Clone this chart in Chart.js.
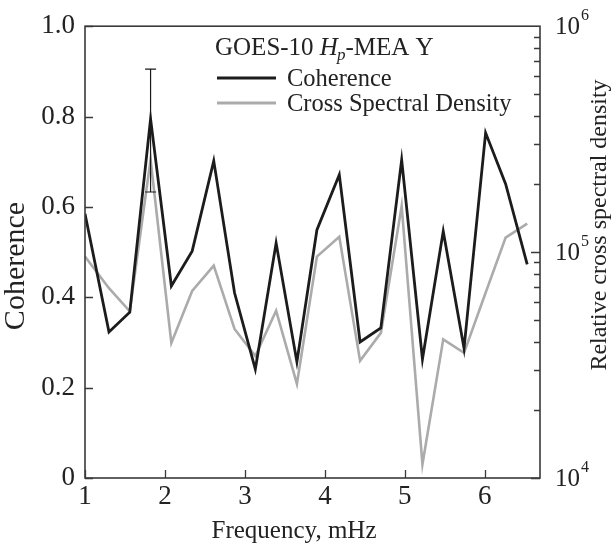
<!DOCTYPE html>
<html>
<head>
<meta charset="utf-8">
<script src="https://cdn.jsdelivr.net/npm/chart.js@4.4.1/dist/chart.umd.min.js"></script>
<style>
  html, body { margin: 0; padding: 0; background: #fff; }
  #wrap { width: 616px; height: 546px; position: relative; }
</style>
</head>
<body>
<div id="wrap"><canvas id="c" width="616" height="546"></canvas></div>
<script>
// ---- data ----
const frequency = [1.00, 1.30, 1.56, 1.82, 2.08, 2.34, 2.61, 2.87, 3.13, 3.39, 3.65, 3.90, 4.18, 4.44, 4.70, 4.96, 5.22, 5.48, 5.74, 6.01, 6.26, 6.53];
const coherence = [0.585, 0.323, 0.367, 0.795, 0.425, 0.502, 0.702, 0.410, 0.241, 0.520, 0.257, 0.549, 0.671, 0.301, 0.332, 0.704, 0.263, 0.546, 0.287, 0.764, 0.651, 0.473];
const crossSpectralDensity = [95500, 69200, 54700, 257000, 39600, 67300, 87100, 45700, 34700, 55000, 26100, 95500, 117000, 33000, 43900, 160000, 11500, 41100, 35800, 66100, 115900, 133700];
const errorBar = { frequency: 1.82, low: 0.633, high: 0.905 };
const xTickValues = [1, 2, 3, 4, 5, 6];
const yTickValues = [0, 0.2, 0.4, 0.6, 0.8, 1.0];
const y2MajorTicks = [1e4, 1e5, 1e6];
const y2Exponents = { 10000: '4', 100000: '5', 1000000: '6' };
const seriesNames = ['Coherence', 'Cross Spectral Density'];
const axisTitles = { x: 'Frequency, mHz', y: 'Coherence', y2: 'Relative cross spectral density' };

const FONT = '"Liberation Serif", "Times New Roman", serif';
const TXT = '#222';

const overlay = {
  id: 'overlay',
  afterDatasetsDraw(chart) {
    const ctx = chart.ctx;
    const a = chart.chartArea;
    const sx = chart.scales.x, sy = chart.scales.y, sy2 = chart.scales.y2;
    ctx.save();
    // frame
    ctx.strokeStyle = '#3a3a3a';
    ctx.lineWidth = 1.6;
    ctx.strokeRect(a.left, a.top, a.right - a.left, a.bottom - a.top);
    ctx.lineWidth = 1.3;
    ctx.beginPath();
    xTickValues.forEach(v => {
      const px = Math.round(sx.getPixelForValue(v)) + 0.5;
      ctx.moveTo(px, a.bottom); ctx.lineTo(px, a.bottom - 8);
    });
    yTickValues.forEach(v => {
      const py = Math.round(sy.getPixelForValue(v)) + 0.5;
      ctx.moveTo(a.left, py); ctx.lineTo(a.left + 8, py);
    });
    for (let dec = 1e4; dec < 1e6; dec *= 10) {
      for (let m = 1; m <= 9; m++) {
        const py = Math.round(sy2.getPixelForValue(dec * m)) + 0.5;
        const len = m === 1 ? 9 : 6;
        ctx.moveTo(a.right, py); ctx.lineTo(a.right - len, py);
      }
    }
    ctx.stroke();
    // error bar
    const ex = sx.getPixelForValue(errorBar.frequency);
    const eh = sy.getPixelForValue(errorBar.high);
    const el = sy.getPixelForValue(errorBar.low);
    ctx.strokeStyle = '#1a1a1a';
    ctx.lineWidth = 1.2;
    ctx.beginPath();
    ctx.moveTo(ex, eh); ctx.lineTo(ex, el);
    ctx.moveTo(ex - 5.5, eh); ctx.lineTo(ex + 5.5, eh);
    ctx.moveTo(ex - 5.5, el); ctx.lineTo(ex + 5.5, el);
    ctx.stroke();

    // right axis tick labels with superscript exponents
    ctx.fillStyle = TXT;
    ctx.textAlign = 'left';
    ctx.textBaseline = 'middle';
    y2MajorTicks.forEach(v => {
      const py = sy2.getPixelForValue(v);
      ctx.font = '25px ' + FONT;
      ctx.fillText('10', a.right + 15, py + 1);
      const w = ctx.measureText('10').width;
      ctx.font = '16px ' + FONT;
      ctx.fillText(y2Exponents[v], a.right + 15 + w + 1, py - 10);
    });

    // axis titles
    ctx.textAlign = 'center';
    ctx.textBaseline = 'middle';
    ctx.font = '25px ' + FONT;
    ctx.fillText(axisTitles.x, 294, 531);
    ctx.save();
    ctx.translate(16, 266);
    ctx.rotate(-Math.PI / 2);
    ctx.font = '30px ' + FONT;
    ctx.fillText(axisTitles.y, 0, 0);
    ctx.restore();
    ctx.save();
    ctx.translate(600, 225);
    ctx.rotate(-Math.PI / 2);
    ctx.font = '24px ' + FONT;
    ctx.fillText(axisTitles.y2, 0, 0);
    ctx.restore();

    // legend block
    ctx.fillStyle = TXT;
    ctx.textBaseline = 'alphabetic';
    ctx.textAlign = 'left';
    let x = 215, base = 55;
    ctx.font = '25px ' + FONT;
    ctx.fillText('GOES-10 ', x, base); x += ctx.measureText('GOES-10 ').width;
    ctx.font = 'italic 25px ' + FONT;
    ctx.fillText('H', x, base); x += ctx.measureText('H').width;
    ctx.font = 'italic 17px ' + FONT;
    ctx.fillText('p', x - 1, base + 5); x += ctx.measureText('p').width - 1;
    ctx.font = '25px ' + FONT;
    ctx.fillText('-MEA Y', x, base);

    const ds = chart.data.datasets;
    const rows = [{ y: 78, tb: 86 }, { y: 103, tb: 111 }];
    rows.forEach((r, i) => {
      ctx.strokeStyle = ds[i].borderColor;
      ctx.lineWidth = 3;
      ctx.beginPath();
      ctx.moveTo(217, r.y); ctx.lineTo(276, r.y);
      ctx.stroke();
      ctx.fillStyle = TXT;
      ctx.font = '24.5px ' + FONT;
      ctx.fillText(ds[i].label, 287, r.tb);
    });
    ctx.restore();
  }
};

new Chart(document.getElementById('c'), {
  type: 'line',
  data: {
    datasets: [
      {
        label: seriesNames[0],
        data: frequency.map((f, i) => ({ x: f, y: coherence[i] })),
        yAxisID: 'y',
        borderColor: '#1c1c1c',
        borderWidth: 2.8,
        pointRadius: 0,
        tension: 0,
        order: 0
      },
      {
        label: seriesNames[1],
        data: frequency.map((f, i) => ({ x: f, y: crossSpectralDensity[i] })),
        yAxisID: 'y2',
        borderColor: '#ababab',
        borderWidth: 2.6,
        pointRadius: 0,
        tension: 0,
        order: 1
      }
    ]
  },
  options: {
    responsive: false,
    animation: false,
    devicePixelRatio: 1,
    layout: { padding: { top: 23, left: 0, right: 0, bottom: 0 } },
    plugins: { legend: { display: false }, tooltip: { enabled: false } },
    scales: {
      x: {
        type: 'linear', min: 1, max: 6.69,
        afterBuildTicks: s => { s.ticks = xTickValues.map(v => ({ value: v })); },
        afterFit: s => { s.height = 68; },
        grid: { display: false, drawTicks: false },
        border: { display: false },
        ticks: { color: TXT, font: { family: FONT, size: 27 }, padding: 3, maxRotation: 0 },
        title: { display: false, text: axisTitles.x }
      },
      y: {
        type: 'linear', position: 'left', min: 0, max: 1,
        afterBuildTicks: s => { s.ticks = yTickValues.map(v => ({ value: v })); },
        afterFit: s => { s.width = 85; },
        grid: { display: false, drawTicks: false },
        border: { display: false },
        ticks: { color: TXT, font: { family: FONT, size: 27 }, padding: 10,
                 callback: v => v === 0 ? '0' : v.toFixed(1) },
        title: { display: false, text: axisTitles.y }
      },
      y2: {
        type: 'logarithmic', position: 'right', min: 1e4, max: 1e6,
        afterBuildTicks: s => { s.ticks = y2MajorTicks.map(v => ({ value: v })); },
        afterFit: s => { s.width = 76; },
        grid: { display: false, drawTicks: false },
        border: { display: false },
        ticks: { display: false },
        title: { display: false, text: axisTitles.y2 }
      }
    }
  },
  plugins: [overlay]
});
</script>
</body>
</html>
